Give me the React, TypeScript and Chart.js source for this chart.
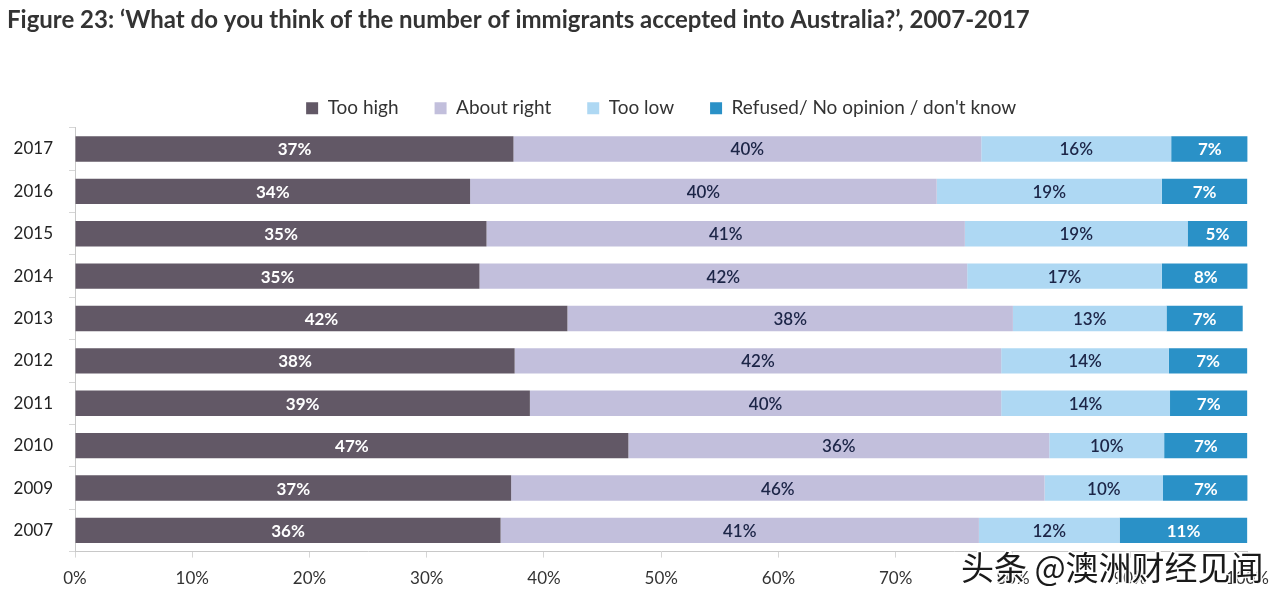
import React, { useEffect, useRef } from "react";
import { Chart, registerables } from "chart.js";

Chart.register(...registerables);

const titleText =
  "Figure 23: \u2018What do you think of the number of immigrants accepted into Australia?\u2019, 2007-2017";
const categories = ["2017", "2016", "2015", "2014", "2013", "2012", "2011", "2010", "2009", "2007"];
const seriesNames = ["Too high", "About right", "Too low", "Refused/ No opinion / don't know"];
const tooHigh = [37.4, 33.7, 35.1, 34.5, 42.0, 37.5, 38.8, 47.2, 37.2, 36.3];
const aboutRight = [39.9, 39.8, 40.8, 41.6, 38.0, 41.5, 40.2, 35.9, 45.5, 40.8];
const tooLow = [16.2, 19.2, 19.0, 16.6, 13.1, 14.3, 14.4, 9.8, 10.1, 12.0];
const refused = [6.6, 7.3, 5.1, 7.5, 6.5, 6.7, 6.6, 7.1, 7.3, 10.9];
const xTicks = [0, 10, 20, 30, 40, 50, 60, 70, 80, 90, 100];
const watermark = "头条 @澳洲财经见闻";

const colors = ["#625866", "#c2bfdc", "#aed8f3", "#2a91c7"];
const labelColors = ["#ffffff", "#1c2547", "#1c2547", "#ffffff"];

const FONT = "Lato, 'Open Sans', sans-serif";

const valueLabelPlugin = {
  id: "valueLabels",
  afterDatasetsDraw(chart: any) {
    const ctx = chart.ctx;
    ctx.save();
    chart.data.datasets.forEach((ds: any, di: number) => {
      const meta = chart.getDatasetMeta(di);
      meta.data.forEach((bar: any, i: number) => {
        const v = ds.data[i];
        const cx = (bar.x + bar.base) / 2;
        ctx.font = `${di === 0 || di === 3 ? "bold" : "600"} 17px ${FONT}`;
        ctx.fillStyle = labelColors[di];
        ctx.textAlign = "center";
        ctx.textBaseline = "middle";
        ctx.fillText(Math.round(v) + "%", cx, bar.y + 1);
      });
    });
    ctx.restore();
  },
};

const watermarkPlugin = {
  id: "watermark",
  afterDraw(chart: any) {
    const ctx = chart.ctx;
    ctx.save();
    ctx.font = `33px 'Noto Sans CJK SC', sans-serif`;
    ctx.textAlign = "left";
    ctx.textBaseline = "middle";
    ctx.lineWidth = 3;
    ctx.strokeStyle = "rgba(255,255,255,0.9)";
    ctx.strokeText(watermark, 961, 567);
    ctx.fillStyle = "#1a1a1a";
    ctx.fillText(watermark, 961, 567);
    ctx.restore();
  },
};

export default function App() {
  const ref = useRef<HTMLCanvasElement>(null);
  useEffect(() => {
    if (!ref.current) return;
    const data = [tooHigh, aboutRight, tooLow, refused];
    const chart = new Chart(ref.current, {
      type: "bar",
      data: {
        labels: categories,
        datasets: data.map((d, i) => ({
          label: seriesNames[i],
          data: d,
          backgroundColor: colors[i],
          borderWidth: 0,
          barPercentage: 0.6,
          categoryPercentage: 1,
        })),
      },
      options: {
        indexAxis: "y",
        responsive: false,
        animation: false,
        layout: { padding: { left: 7, right: 23, top: 0, bottom: 0 } },
        plugins: {
          tooltip: { enabled: false },
          title: {
            display: true,
            text: titleText,
            align: "start",
            color: "#333333",
            font: { family: FONT, size: 24, weight: "bold" },
            padding: { top: 6, bottom: 28 },
          },
          legend: {
            display: true,
            position: "top",
            fullSize: false,
            labels: {
              boxWidth: 12,
              boxHeight: 12,
              padding: 36,
              color: "#333333",
              font: { family: FONT, size: 19 },
            },
          },
        },
        scales: {
          x: {
            stacked: true,
            min: 0,
            max: 100,
            afterBuildTicks: (s: any) => {
              s.ticks = xTicks.map((v) => ({ value: v }));
            },
            ticks: {
              callback: (v: any) => v + "%",
              color: "#333333",
              font: { family: FONT, size: 17 },
              padding: 11,
            },
            grid: { drawOnChartArea: false, tickLength: 6, color: "#d6d6d6" },
            border: { color: "#c8c8c8" },
          },
          y: {
            stacked: true,
            afterFit: (s: any) => {
              s.width = 68;
            },
            ticks: {
              color: "#222222",
              font: { family: FONT, size: 17 },
              padding: 16,
            },
            grid: { drawOnChartArea: false, tickLength: 6, color: "#d6d6d6", offset: true },
            border: { color: "#c8c8c8" },
          },
        },
      },
      plugins: [valueLabelPlugin, watermarkPlugin],
    } as any);
    return () => chart.destroy();
  }, []);
  return (
    <div style={{ position: "fixed", left: 0, top: 0, width: 1280, height: 600, background: "#fff" }}>
      <canvas ref={ref} width={1280} height={600} />
    </div>
  );
}
